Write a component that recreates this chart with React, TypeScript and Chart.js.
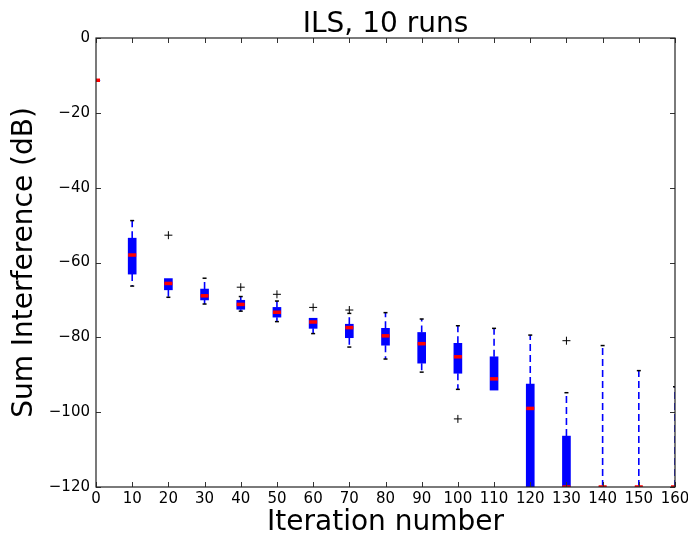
import React, { useEffect, useRef } from 'react';
import { Chart, registerables } from 'chart.js';

Chart.register(...registerables);

const titleText = 'ILS, 10 runs';
const xAxisLabel = 'Iteration number';
const yAxisLabel = 'Sum Interference (dB)';

const iterations = [0, 10, 20, 30, 40, 50, 60, 70, 80, 90, 100, 110, 120, 130, 140, 150, 160];
const whiskerHigh = [-11.3, -48.8, -64.3, -64.2, -69.1, -70.3, -74.9, -73.6, -73.4, -75.1, -76.9, -77.6, -79.4, -94.8, -82.2, -88.9, -93.2];
const upperQuartile = [-11.3, -53.5, -64.3, -67.1, -70.1, -72.0, -74.9, -76.5, -77.6, -78.7, -81.6, -85.2, -92.5, -106.4, -120, -120, -120];
const medians = [-11.3, -58.0, -65.6, -68.9, -71.2, -73.3, -75.9, -77.4, -79.6, -81.7, -85.2, -91.1, -99.0, -120, -120, -120, -120];
const lowerQuartile = [-11.3, -63.1, -67.3, -70.0, -72.5, -74.6, -77.6, -80.1, -82.1, -86.9, -89.6, -94.1, -120, -120, -120, -120, -120];
const whiskerLow = [-11.3, -66.3, -69.3, -71.1, -73.0, -75.8, -79.0, -82.6, -85.8, -89.3, -93.9, -94.1, -120, -120, -120, -120, -120];
const outlierIterations = [20, 40, 50, 60, 70, 100, 130];
const outlierValues = [-52.7, -66.6, -68.5, -72.0, -72.7, -101.8, -80.9];

const FONT = 'DejaVu Sans';

const fmt = (v: number) => (v < 0 ? '\u2212' + Math.abs(v) : String(v));

const framePlugin = {
  id: 'frameTicks',
  afterDatasetsDraw(chart: any) {
    const { ctx, chartArea, scales } = chart;
    const { left, right, top, bottom } = chartArea;
    const xs = scales.x;
    const ys = scales.y;
    ctx.save();
    ctx.strokeStyle = '#333';
    ctx.lineWidth = 1;
    ctx.beginPath();
    xs.ticks.forEach((t: any) => {
      const px = Math.round(xs.getPixelForValue(t.value)) + 0.5;
      ctx.moveTo(px, bottom);
      ctx.lineTo(px, bottom - 5);
      ctx.moveTo(px, top);
      ctx.lineTo(px, top + 5);
    });
    ys.ticks.forEach((t: any) => {
      const py = Math.round(ys.getPixelForValue(t.value)) + 0.5;
      ctx.moveTo(left, py);
      ctx.lineTo(left + 5, py);
      ctx.moveTo(right, py);
      ctx.lineTo(right - 5, py);
    });
    ctx.stroke();
    ctx.strokeStyle = '#222';
    ctx.lineWidth = 1.2;
    ctx.strokeRect(left, top, right - left, bottom - top);

    ctx.fillStyle = '#000';
    ctx.font = `28px "${FONT}"`;
    ctx.textAlign = 'center';
    ctx.textBaseline = 'alphabetic';
    ctx.fillText(titleText, (left + right) / 2, 31.5);
    ctx.restore();
  },
};

export default function App() {
  const canvasRef = useRef<HTMLCanvasElement | null>(null);

  useEffect(() => {
    const canvas = canvasRef.current;
    if (!canvas) return;

    const boxes = iterations.map((x, i) => ({ x, y: [lowerQuartile[i], upperQuartile[i]] }));
    const whiskerPoints: any[] = [];
    const capPoints: any[] = [];
    iterations.forEach((x, i) => {
      if (whiskerHigh[i] !== upperQuartile[i]) {
        whiskerPoints.push({ x, y: upperQuartile[i] }, { x, y: whiskerHigh[i] }, { x, y: null });
        capPoints.push({ x, y: whiskerHigh[i] });
      }
      if (whiskerLow[i] !== lowerQuartile[i]) {
        whiskerPoints.push({ x, y: lowerQuartile[i] }, { x, y: whiskerLow[i] }, { x, y: null });
        capPoints.push({ x, y: whiskerLow[i] });
      }
    });
    const medianPoints = iterations.map((x, i) => ({ x, y: medians[i] }));
    const outlierPoints = outlierIterations.map((x, i) => ({ x, y: outlierValues[i] }));

    const chart = new Chart(canvas, {
      type: 'bar',
      data: {
        datasets: [
          {
            type: 'bar',
            data: boxes as any,
            backgroundColor: '#0000ff',
            borderWidth: 0,
            barThickness: 8,
            clip: 0,
            order: 5,
          } as any,
          {
            type: 'line',
            data: whiskerPoints,
            borderColor: '#0000ff',
            borderWidth: 1.6,
            borderDash: [7, 4],
            pointRadius: 0,
            spanGaps: false,
            tension: 0,
            fill: false,
            clip: 0,
            order: 4,
          } as any,
          {
            type: 'scatter',
            data: capPoints,
            pointStyle: 'line',
            pointRadius: 2,
            pointBorderWidth: 1.5,
            pointBorderColor: '#000',
            borderColor: '#000',
            clip: 0,
            order: 3,
          } as any,
          {
            type: 'scatter',
            data: medianPoints,
            pointStyle: 'line',
            pointRadius: 4,
            pointBorderWidth: 3.5,
            pointBorderColor: '#ff0000',
            borderColor: '#ff0000',
            clip: 0,
            order: 2,
          } as any,
          {
            type: 'scatter',
            data: outlierPoints,
            pointStyle: 'cross',
            pointRadius: 4,
            pointBorderWidth: 1,
            pointBorderColor: '#000',
            borderColor: '#000',
            clip: 0,
            order: 1,
          } as any,
        ],
      },
      options: {
        responsive: false,
        animation: false,
        events: [],
        layout: { padding: { left: 0, right: 13, top: 38, bottom: 0 } },
        plugins: {
          legend: { display: false },
          tooltip: { enabled: false },
          title: { display: false },
        },
        scales: {
          x: {
            type: 'linear',
            min: 0,
            max: 160,
            offset: false,
            grid: { display: false, drawTicks: false },
            border: { display: false },
            ticks: {
              stepSize: 10,
              autoSkip: false,
              maxRotation: 0,
              color: '#000',
              padding: 3,
              font: { family: FONT, size: 15 },
              callback: (v: any) => fmt(Number(v)),
            },
            title: {
              display: true,
              text: xAxisLabel,
              color: '#000',
              font: { family: FONT, size: 28, lineHeight: 1.2 },
              padding: { top: 0, bottom: 4 },
            },
            afterFit: (scale: any) => {
              scale.height = 57;
              scale.paddingRight = 0;
              scale.paddingLeft = 0;
            },
          },
          y: {
            type: 'linear',
            min: -120,
            max: 0,
            grid: { display: false, drawTicks: false },
            border: { display: false },
            ticks: {
              stepSize: 20,
              color: '#000',
              padding: 6,
              font: { family: FONT, size: 15 },
              callback: (v: any) => fmt(Number(v)),
            },
            title: {
              display: true,
              text: yAxisLabel,
              color: '#000',
              font: { family: FONT, size: 28, lineHeight: 1.2 },
              padding: { top: 8, bottom: 0 },
            },
            afterFit: (scale: any) => {
              scale.width = 96;
              scale.paddingTop = 0;
              scale.paddingBottom = 0;
            },
          },
        },
      } as any,
      plugins: [framePlugin],
    });

    return () => chart.destroy();
  }, []);

  return (
    <div style={{ position: 'absolute', left: 0, top: 0, width: 688, height: 544, background: '#fff' }}>
      <canvas ref={canvasRef} width={688} height={544} style={{ display: 'block' }} />
    </div>
  );
}
